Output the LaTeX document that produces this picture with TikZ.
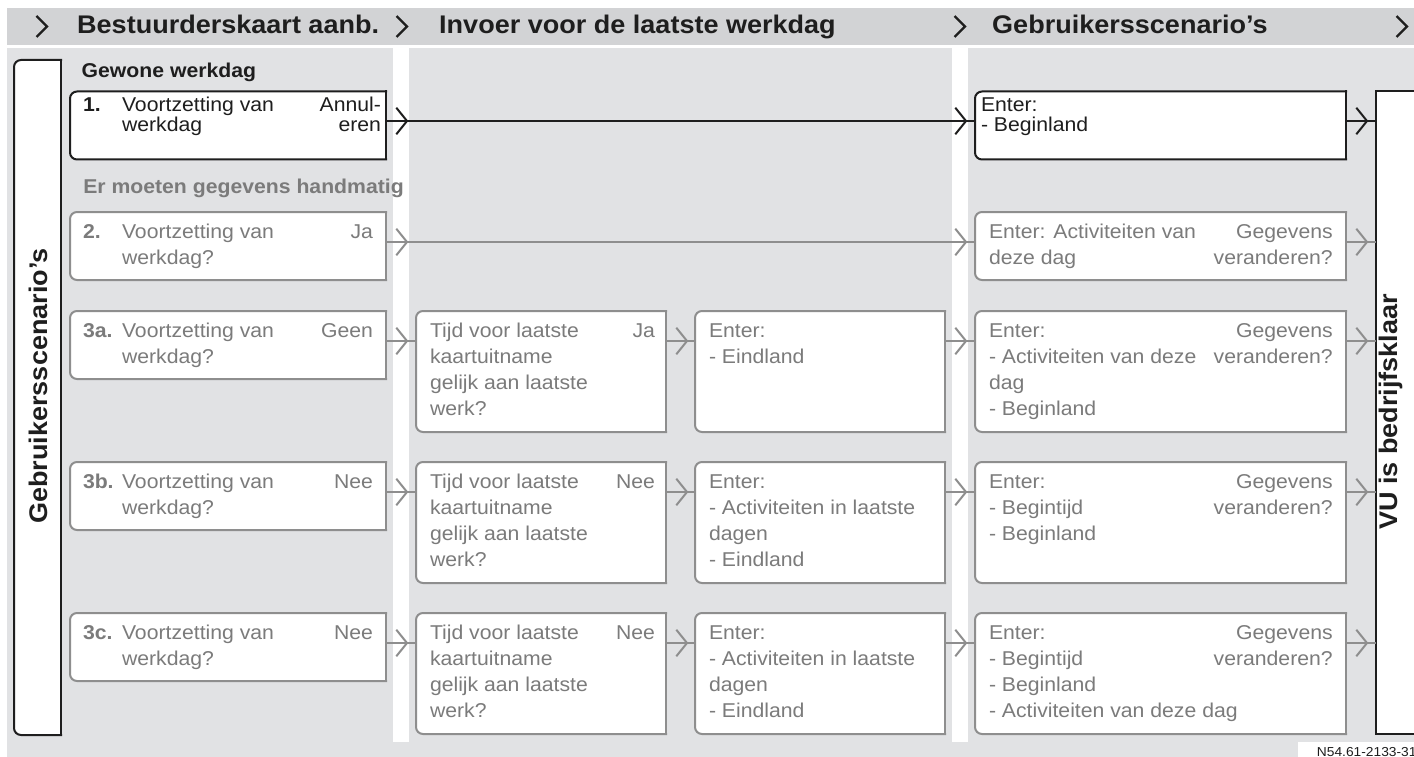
\documentclass[tikz,border=0pt]{standalone}
\usepackage{fontspec}
\setmainfont{Liberation Sans}[FakeStretch=1.06]
\usetikzlibrary{decorations.markings}
\definecolor{hdr}{HTML}{D2D3D5}
\definecolor{bodyg}{HTML}{E1E2E4}
\definecolor{ink}{HTML}{1E1E1E}
\definecolor{gline}{HTML}{8E8E8E}
\definecolor{gtext}{HTML}{7B7B7B}
\newcommand\LL[2]{\vtop{\baselineskip=#1\relax\halign{##\hfil\cr#2\crcr}}}
\newcommand\RR[2]{\vtop{\baselineskip=#1\relax\halign{\hfil##\cr#2\crcr}}}
\newcommand\outl[2]{%
  \fill[white, rounded corners=7pt] (#1.north west) rectangle (#1.south east);
  \fill[white] (#1.north) rectangle (#1.south east);
  \draw[#2, line width=2pt, rounded corners=7pt, line cap=rect] (#1.north east) -- (#1.north west) -- (#1.south west) -- (#1.south east);
  \draw[#2, line width=2pt, line cap=rect] (#1.north east) -- (#1.south east);}
\tikzset{
  bx/.style 2 args={anchor=north west, inner sep=0pt, outer sep=0pt, minimum width=#1, minimum height=#2},
  tx/.style={inner sep=0pt, outer sep=0pt, anchor=base west, font=\fontsize{20}{26}\selectfont},
  rx/.style={inner sep=0pt, outer sep=0pt, anchor=base east, font=\fontsize{20}{26}\selectfont},
  nx/.style={inner sep=0pt, outer sep=0pt, anchor=base west, font=\fontsize{20}{26}\selectfont\bfseries},
  hd/.style={inner sep=0pt, anchor=base west, font=\fontsize{25.5}{30}\selectfont\bfseries, text=ink},
  vlab/.style={rotate=90, inner sep=0pt, font=\fontsize{25.5}{30}\selectfont\bfseries, text=ink},
  chevtip/.style={#1, line width=2pt},
  conn/.style={draw=#1, line width=2pt, postaction={decorate, decoration={markings,
      mark=at position 21pt with {\draw[chevtip=#1] (-10.7pt,-13.3pt) -- (0pt,0pt) -- (-10.7pt,13.3pt);}}}},
  longconn/.style={draw=#1, line width=2pt, postaction={decorate, decoration={markings,
      mark=at position 21pt with {\draw[chevtip=#1] (-10.7pt,-13.3pt) -- (0pt,0pt) -- (-10.7pt,13.3pt);},
      mark=at position -9pt with {\draw[chevtip=#1] (-10.7pt,-13.3pt) -- (0pt,0pt) -- (-10.7pt,13.3pt);}}}},
}
\begin{document}
\begin{tikzpicture}[x=1pt,y=-1pt]
\useasboundingbox (0,0) rectangle (1414,757);
\clip (0,0) rectangle (1414,757);
% panels
\fill[hdr] (7,8) rectangle (1414,45);
\fill[bodyg] (7,48) rectangle (1414,757);
\fill[white] (393,48) rectangle (409,741.5);
\fill[white] (952,48) rectangle (968,741.5);
\fill[white] (1298,741.5) rectangle (1414,757);
% header
\foreach \cx in {47,407,965,1407} \draw[ink, line width=2.4pt] (\cx-10.5,16) -- (\cx,26.5) -- (\cx-10.5,37);
\node[hd] (h1) at (77,33.3) {Bestuurderskaart aanb.};
\node[hd] (h2) at (439,33.3) {Invoer voor de laatste werkdag};
\node[hd] (h3) at (992,33.3) {Gebruikersscenario’s};
% section labels
\node[nx, text=ink] (s1) at (81.7,77.3) {Gewone werkdag};
\node[nx, text=gtext] (s2) at (83.3,193.3) {Er moeten gegevens handmatig};
% side boxes
\node[bx={47}{675}] (lb) at (14,60) {};
\outl{lb}{ink}
\node[vlab] (lbt) at (38,386) {Gebruikersscenario’s};
\node[bx={60}{642}, draw=ink, line width=2pt, fill=white] (vu) at (1376,91.5) {};
\node[vlab] (vut) at (1391,412) {VU is bedrijfsklaar};
% boxes
\node[bx={316}{68}] (a1) at (70,91.5) {};
\node[bx={316}{68}] (a2) at (70,212) {};
\node[bx={316}{68}] (a3) at (70,311) {};
\node[bx={316}{68}] (a4) at (70,462) {};
\node[bx={316}{68}] (a5) at (70,613) {};
\node[bx={250}{121}] (b3) at (416,311) {};
\node[bx={250}{121}] (b4) at (416,462) {};
\node[bx={250}{121}] (b5) at (416,613) {};
\node[bx={250}{121}] (c3) at (695,311) {};
\node[bx={250}{121}] (c4) at (695,462) {};
\node[bx={250}{121}] (c5) at (695,613) {};
\node[bx={371}{68}] (d1) at (975,91.5) {};
\node[bx={371}{68}] (d2) at (975,212) {};
\node[bx={371}{121}] (d3) at (975,311) {};
\node[bx={371}{121}] (d4) at (975,462) {};
\node[bx={371}{121}] (d5) at (975,613) {};
\outl{a1}{ink}
\outl{d1}{ink}
\outl{a2}{gline}\outl{a3}{gline}\outl{a4}{gline}\outl{a5}{gline}
\outl{b3}{gline}\outl{b4}{gline}\outl{b5}{gline}
\outl{c3}{gline}\outl{c4}{gline}\outl{c5}{gline}
\outl{d2}{gline}\outl{d3}{gline}\outl{d4}{gline}\outl{d5}{gline}
% column 1 texts
\node[nx, text=ink] (a1n) at ([shift={(13pt,-20pt)}]a1.north west) {1.};
\node[tx, text=ink] (a1t) at ([shift={(52pt,-20pt)}]a1.north west) {\LL{20.5pt}{Voortzetting van\cr werkdag}};
\node[rx, text=ink] (a1r) at ([shift={(-5pt,-20pt)}]a1.north east) {\RR{20.5pt}{Annul-\cr eren}};
\node[nx, text=gtext] (a2n) at ([shift={(13pt,-26.3pt)}]a2.north west) {2.};
\node[tx, text=gtext] (a2t) at ([shift={(52pt,-26.3pt)}]a2.north west) {\LL{26pt}{Voortzetting van\cr werkdag?}};
\node[rx, text=gtext] (a2r) at ([shift={(-13pt,-26.3pt)}]a2.north east) {Ja};
\node[nx, text=gtext] (a3n) at ([shift={(13pt,-26pt)}]a3.north west) {3a.};
\node[tx, text=gtext] (a3t) at ([shift={(52pt,-26pt)}]a3.north west) {\LL{26pt}{Voortzetting van\cr werkdag?}};
\node[rx, text=gtext] (a3r) at ([shift={(-13pt,-26pt)}]a3.north east) {Geen};
\node[nx, text=gtext] (a4n) at ([shift={(13pt,-26pt)}]a4.north west) {3b.};
\node[tx, text=gtext] (a4t) at ([shift={(52pt,-26pt)}]a4.north west) {\LL{26pt}{Voortzetting van\cr werkdag?}};
\node[rx, text=gtext] (a4r) at ([shift={(-13pt,-26pt)}]a4.north east) {Nee};
\node[nx, text=gtext] (a5n) at ([shift={(13pt,-26pt)}]a5.north west) {3c.};
\node[tx, text=gtext] (a5t) at ([shift={(52pt,-26pt)}]a5.north west) {\LL{26pt}{Voortzetting van\cr werkdag?}};
\node[rx, text=gtext] (a5r) at ([shift={(-13pt,-26pt)}]a5.north east) {Nee};
% column 2 texts
\node[tx, text=gtext] (b3t) at ([shift={(14pt,-26pt)}]b3.north west) {\LL{26pt}{Tijd voor laatste\cr kaartuitname\cr gelijk aan laatste\cr werk?}};
\node[rx, text=gtext] (b3r) at ([shift={(-11pt,-26pt)}]b3.north east) {Ja};
\node[tx, text=gtext] (b4t) at ([shift={(14pt,-26pt)}]b4.north west) {\LL{26pt}{Tijd voor laatste\cr kaartuitname\cr gelijk aan laatste\cr werk?}};
\node[rx, text=gtext] (b4r) at ([shift={(-11pt,-26pt)}]b4.north east) {Nee};
\node[tx, text=gtext] (b5t) at ([shift={(14pt,-26pt)}]b5.north west) {\LL{26pt}{Tijd voor laatste\cr kaartuitname\cr gelijk aan laatste\cr werk?}};
\node[rx, text=gtext] (b5r) at ([shift={(-11pt,-26pt)}]b5.north east) {Nee};
\node[tx, text=gtext] (c3t) at ([shift={(14pt,-26pt)}]c3.north west) {\LL{26pt}{Enter:\cr - Eindland}};
\node[tx, text=gtext] (c4t) at ([shift={(14pt,-26pt)}]c4.north west) {\LL{26pt}{Enter:\cr - Activiteiten in laatste\cr dagen\cr - Eindland}};
\node[tx, text=gtext] (c5t) at ([shift={(14pt,-26pt)}]c5.north west) {\LL{26pt}{Enter:\cr - Activiteiten in laatste\cr dagen\cr - Eindland}};
% column 3 texts
\node[tx, text=ink] (d1t) at ([shift={(6pt,-20pt)}]d1.north west) {\LL{20.5pt}{Enter:\cr - Beginland}};
\node[tx, text=gtext] (d2t) at ([shift={(14pt,-26.3pt)}]d2.north west) {\LL{26pt}{Enter: Activiteiten van\cr deze dag}};
\node[rx, text=gtext] (d2r) at ([shift={(-13.3pt,-26.3pt)}]d2.north east) {\RR{26pt}{Gegevens\cr veranderen?}};
\node[tx, text=gtext] (d3t) at ([shift={(14pt,-26pt)}]d3.north west) {\LL{26pt}{Enter:\cr - Activiteiten van deze\cr dag\cr - Beginland}};
\node[rx, text=gtext] (d3r) at ([shift={(-13.3pt,-26pt)}]d3.north east) {\RR{26pt}{Gegevens\cr veranderen?}};
\node[tx, text=gtext] (d4t) at ([shift={(14pt,-26pt)}]d4.north west) {\LL{26pt}{Enter:\cr - Begintijd\cr - Beginland}};
\node[rx, text=gtext] (d4r) at ([shift={(-13.3pt,-26pt)}]d4.north east) {\RR{26pt}{Gegevens\cr veranderen?}};
\node[tx, text=gtext] (d5t) at ([shift={(14pt,-26pt)}]d5.north west) {\LL{26pt}{Enter:\cr - Begintijd\cr - Beginland\cr - Activiteiten van deze dag}};
\node[rx, text=gtext] (d5r) at ([shift={(-13.3pt,-26pt)}]d5.north east) {\RR{26pt}{Gegevens\cr veranderen?}};
% connectors
\coordinate (p1) at ([yshift=-29.5pt]a1.north east);
\coordinate (q1) at ([yshift=-29.5pt]d1.north east);
\draw[longconn=ink] (p1) -- (p1 -| d1.west);
\draw[conn=ink] (q1) -- (q1 -| vu.west);
\coordinate (p2) at ([yshift=-30pt]a2.north east);
\coordinate (q2) at ([yshift=-30pt]d2.north east);
\draw[longconn=gline] (p2) -- (p2 -| d2.west);
\draw[conn=gline] (q2) -- (q2 -| vu.west);
\foreach \r in {3,4,5}{
  \coordinate (pa\r) at ([yshift=-30pt]a\r.north east);
  \coordinate (pb\r) at ([yshift=-30pt]b\r.north east);
  \coordinate (pc\r) at ([yshift=-30pt]c\r.north east);
  \coordinate (pd\r) at ([yshift=-30pt]d\r.north east);
  \draw[conn=gline] (pa\r) -- (pa\r -| b\r.west);
  \draw[conn=gline] (pb\r) -- (pb\r -| c\r.west);
  \draw[conn=gline] (pc\r) -- (pc\r -| d\r.west);
  \draw[conn=gline] (pd\r) -- (pd\r -| vu.west);
}
% reference
\node[inner sep=0pt, anchor=base west, font=\fontsize{13}{13}\selectfont, text=ink] (ref) at (1316.7,756) {N54.61-2133-31};
\end{tikzpicture}
\end{document}
